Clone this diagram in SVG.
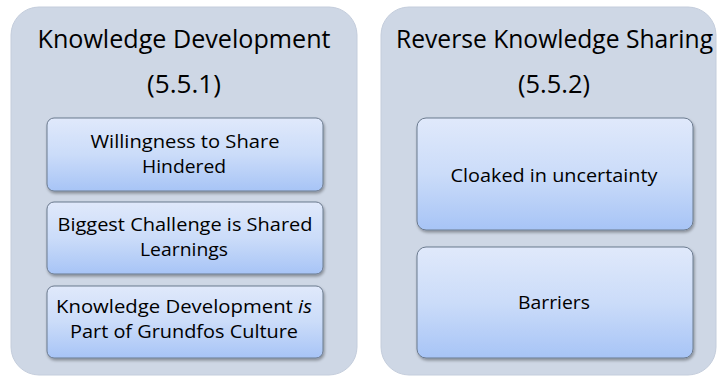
<svg xmlns="http://www.w3.org/2000/svg" width="717" height="377" viewBox="0 0 717 377">
<defs>
<linearGradient id="g" x1="0" y1="0" x2="0" y2="1">
<stop offset="0" stop-color="#e0e9fb"/>
<stop offset="0.5" stop-color="#cbdcf9"/>
<stop offset="1" stop-color="#a7c4f6"/>
</linearGradient>
<filter id="sh" x="-5%" y="-5%" width="112%" height="125%">
<feGaussianBlur in="SourceAlpha" stdDeviation="1.5"/>
<feOffset dx="1" dy="2" result="b"/>
<feComponentTransfer><feFuncA type="linear" slope="0.35"/></feComponentTransfer>
<feMerge><feMergeNode/><feMergeNode in="SourceGraphic"/></feMerge>
</filter>
</defs>
<style>
.outer{fill:#ced7e5;stroke:#c4cddc;stroke-width:1}
.inner{fill:url(#g);stroke:#6b7a8e;stroke-width:1;filter:url(#sh)}
.t{font-family:"Open Sans","Liberation Sans",sans-serif;fill:#000;text-anchor:middle}
.h{font-size:25px}
.b{font-size:19px}
</style>
<rect width="717" height="377" fill="#ffffff"/>
<g id="knowledge-development">
<rect class="outer" x="11" y="7" width="346" height="368" rx="28"/>
<text class="t h" x="184" y="48" textLength="293" lengthAdjust="spacingAndGlyphs">Knowledge Development</text>
<text class="t h" x="184" y="93" textLength="74" lengthAdjust="spacingAndGlyphs">(5.5.1)</text>
</g>
<g id="willingness">
<rect class="inner" x="47" y="118" width="276" height="73" rx="7"/>
<text class="t b" x="185" y="148" textLength="189" lengthAdjust="spacingAndGlyphs">Willingness to Share</text>
<text class="t b" x="184" y="173" textLength="84" lengthAdjust="spacingAndGlyphs">Hindered</text>
</g>
<g id="biggest-challenge">
<rect class="inner" x="47" y="202" width="276" height="72" rx="7"/>
<text class="t b" x="185" y="231" textLength="255" lengthAdjust="spacingAndGlyphs">Biggest Challenge is Shared</text>
<text class="t b" x="184" y="256" textLength="88" lengthAdjust="spacingAndGlyphs">Learnings</text>
</g>
<g id="kd-culture">
<rect class="inner" x="47" y="286" width="276" height="72" rx="7"/>
<text class="t b" x="184" y="313" textLength="256" lengthAdjust="spacingAndGlyphs">Knowledge Development <tspan font-style="italic">is</tspan></text>
<text class="t b" x="184" y="338" textLength="228" lengthAdjust="spacingAndGlyphs">Part of Grundfos Culture</text>
</g>
<g id="reverse-knowledge-sharing">
<rect class="outer" x="381" y="7" width="335" height="368" rx="28"/>
<text class="t h" x="554.5" y="48" textLength="317" lengthAdjust="spacingAndGlyphs">Reverse Knowledge Sharing</text>
<text class="t h" x="554" y="93" textLength="72" lengthAdjust="spacingAndGlyphs">(5.5.2)</text>
</g>
<g id="cloaked">
<rect class="inner" x="417" y="118" width="276" height="112" rx="9"/>
<text class="t b" x="554" y="182" textLength="207" lengthAdjust="spacingAndGlyphs">Cloaked in uncertainty</text>
</g>
<g id="barriers">
<rect class="inner" x="417" y="247" width="276" height="111" rx="9"/>
<text class="t b" x="554" y="309" textLength="72" lengthAdjust="spacingAndGlyphs">Barriers</text>
</g>
<g id="connectors"/>
</svg>
